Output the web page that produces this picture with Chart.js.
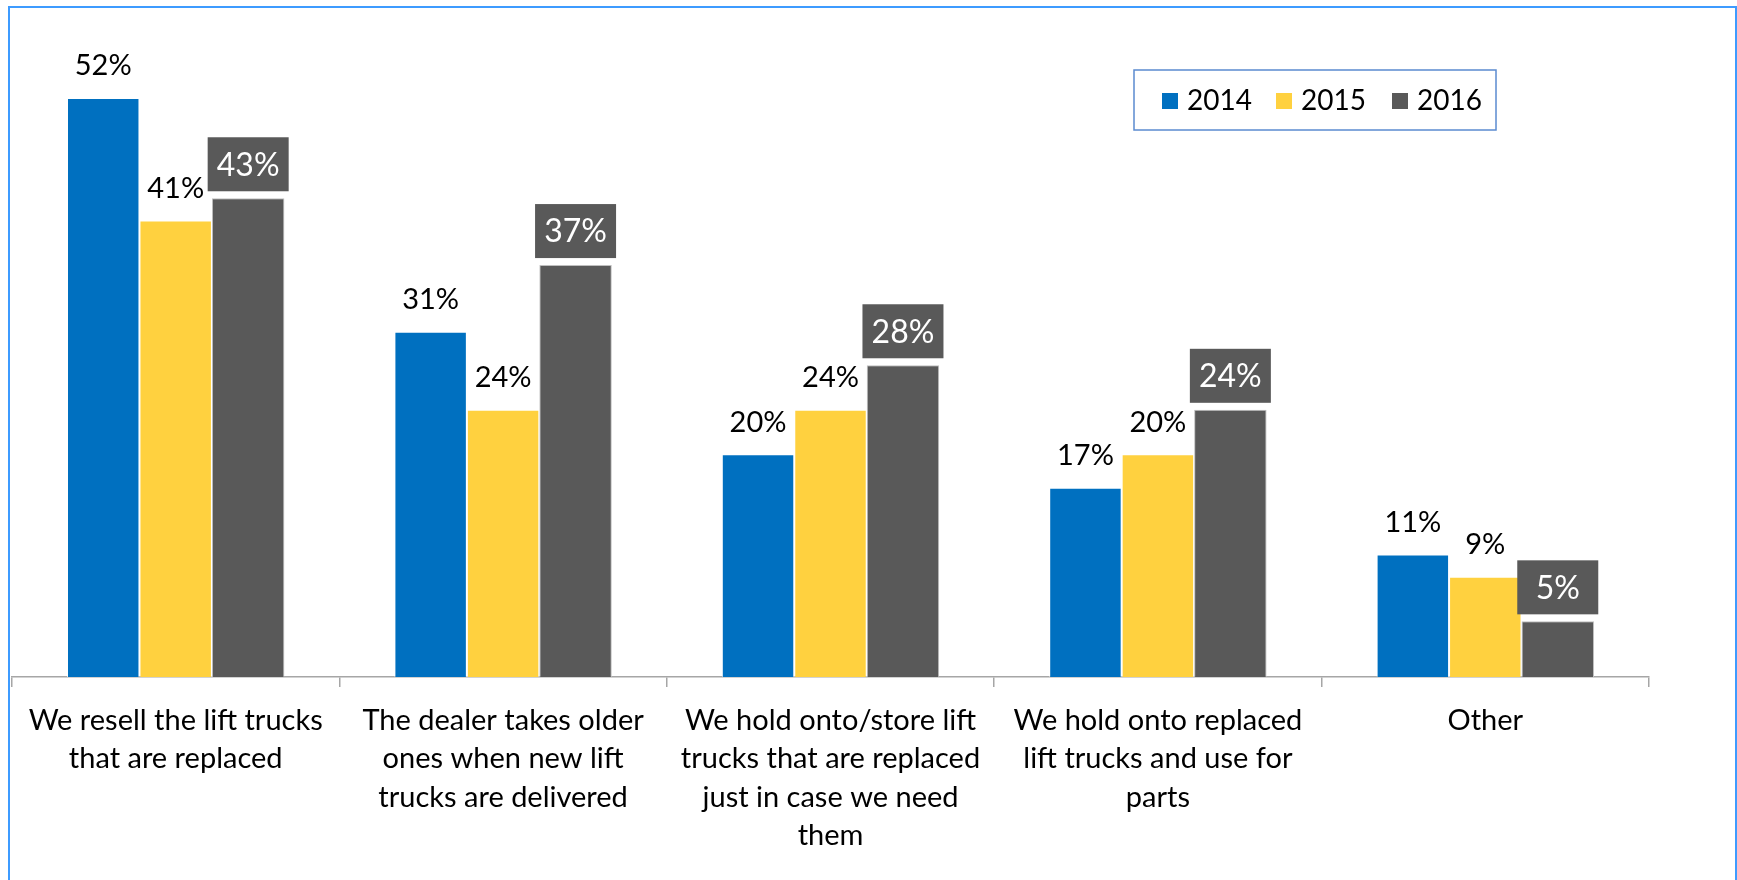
<!DOCTYPE html>
<html>
<head>
<meta charset="utf-8">
<title>What happens to replaced lift trucks</title>
<script src="https://cdn.jsdelivr.net/npm/chart.js@4/dist/chart.umd.min.js"></script>
<style>
  html, body { margin: 0; padding: 0; background: #fff; overflow: hidden; }
  #frame {
    position: absolute; left: 8px; top: 6px; right: 0; height: 1000px;
    border: 2px solid #3d9bff; border-bottom: none;
  }
  #wrap { position: absolute; left: 0; top: 0; width: 1737px; height: 880px; }
</style>
</head>
<body>
<div id="frame"></div>
<div id="wrap"><canvas id="chart" width="1737" height="880"></canvas></div>
<script>
"use strict";

const categories = [
  ["We resell the lift trucks", "that are replaced"],
  ["The dealer takes older", "ones when new lift", "trucks are delivered"],
  ["We hold onto/store lift", "trucks that are replaced", "just in case we need", "them"],
  ["We hold onto replaced", "lift trucks and use for", "parts"],
  ["Other"]
];
const years = ["2014", "2015", "2016"];
const values2014 = [52, 31, 20, 17, 11];
const values2015 = [41, 24, 24, 20, 9];
const values2016 = [43, 37, 28, 24, 5];
const colors = ["#0070c0", "#ffd13f", "#595959"];

const FONT = "Lato, 'Open Sans', sans-serif";

// value labels: plain text for the first two series, boxed white text for the last
const valueLabels = {
  id: "valueLabels",
  afterDatasetsDraw(chart) {
    const ctx = chart.ctx;
    ctx.save();
    ctx.textAlign = "center";
    ctx.textBaseline = "middle";
    chart.data.datasets.forEach((ds, di) => {
      const meta = chart.getDatasetMeta(di);
      meta.data.forEach((bar, i) => {
        const txt = ds.data[i] + "%";
        if (di < 2) {
          ctx.font = "29px " + FONT;
          ctx.fillStyle = "#000";
          ctx.fillText(txt, bar.x, bar.y - 32);
        } else {
          const w = 81, h = 54;
          ctx.fillStyle = "#595959";
          ctx.fillRect(bar.x - w / 2, bar.y - 7 - h, w, h);
          ctx.font = "32px " + FONT;
          ctx.fillStyle = "#fff";
          ctx.fillText(txt, bar.x, bar.y - 7 - h / 2 + 1);
        }
      });
    });
    ctx.restore();
  }
};

// boxed legend in the upper right
const boxLegend = {
  id: "boxLegend",
  afterDraw(chart) {
    const ctx = chart.ctx;
    ctx.save();
    ctx.strokeStyle = "#5b8bd0";
    ctx.lineWidth = 1.5;
    ctx.strokeRect(1134, 70, 362, 60);
    ctx.font = "28px " + FONT;
    ctx.textBaseline = "middle";
    ctx.textAlign = "left";
    const starts = [1162, 1276, 1392];
    chart.data.datasets.forEach((ds, i) => {
      ctx.fillStyle = ds.backgroundColor;
      ctx.fillRect(starts[i], 93, 16, 16);
      ctx.fillStyle = "#000";
      ctx.fillText(ds.label, starts[i] + 25, 101);
    });
    ctx.restore();
  }
};

const seriesValues = [values2014, values2015, values2016];

new Chart(document.getElementById("chart").getContext("2d"), {
  type: "bar",
  data: {
    labels: categories,
    datasets: years.map((y, i) => ({
      label: y,
      data: seriesValues[i],
      backgroundColor: colors[i],
      borderColor: i === 2 ? "#bfbfbf" : "rgba(255,255,255,0.7)",
      borderWidth: 1,
      categoryPercentage: 0.664,
      barPercentage: 1.0
    }))
  },
  options: {
    responsive: false,
    animation: false,
    layout: { padding: { left: 12, right: 88, top: 9, bottom: 0 } },
    plugins: { legend: { display: false }, tooltip: { enabled: false } },
    scales: {
      x: {
        grid: { drawOnChartArea: false, offset: true, tickLength: 10, color: "#a6a6a6", lineWidth: 1.5 },
        border: { color: "#a6a6a6", width: 1.5 },
        ticks: {
          color: "#000",
          font: { family: FONT, size: 29, lineHeight: 1.33 },
          padding: 14,
          maxRotation: 0,
          autoSkip: false
        },
        afterFit(scale) { scale.height = 203; }
      },
      y: { display: false, min: 0, max: 60 }
    }
  },
  plugins: [valueLabels, boxLegend]
});
</script>
</body>
</html>
